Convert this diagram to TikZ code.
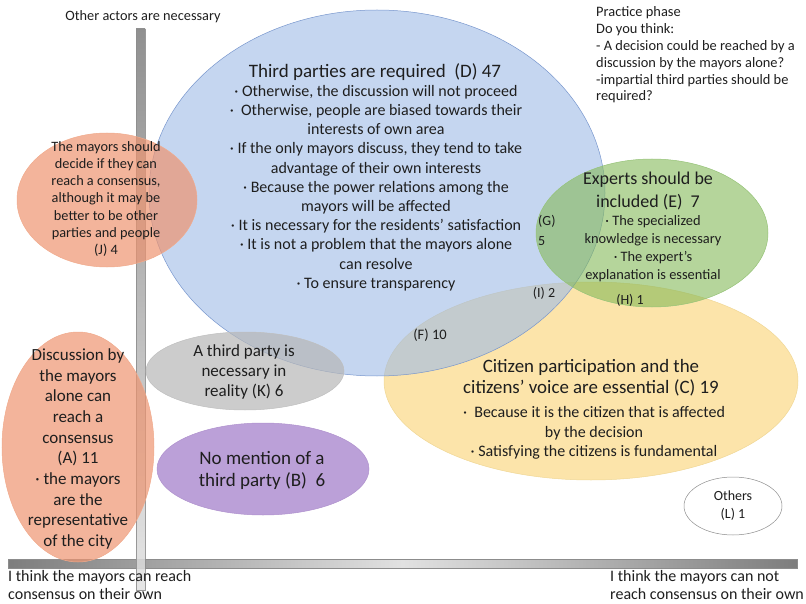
\documentclass[tikz,border=0pt]{standalone}
\usepackage{fontspec}
\setmainfont{Carlito}
\usetikzlibrary{shapes.geometric}
\newcommand{\fsz}[2]{\fontsize{#1}{#2}\selectfont}
\definecolor{cblue}{RGB}{158,187,230}
\definecolor{cblueb}{RGB}{120,150,205}
\definecolor{cgrn}{RGB}{132,185,88}
\definecolor{cgrnb}{RGB}{150,195,120}
\definecolor{cyel}{RGB}{252,228,170}
\definecolor{cyelb}{RGB}{240,215,150}
\definecolor{corg}{RGB}{238,148,112}
\definecolor{corgb}{RGB}{240,170,140}
\definecolor{cgry}{RGB}{183,183,183}
\definecolor{cgryb}{RGB}{190,190,190}
\definecolor{cpur}{RGB}{187,160,216}
\definecolor{cpurb}{RGB}{175,145,205}
\definecolor{bardk}{RGB}{125,125,125}
\definecolor{barlt}{RGB}{225,225,225}
\definecolor{ink}{RGB}{30,30,30}
\tikzset{
  blob/.style={ellipse,inner sep=0pt,line width=.5pt},
  bar/.style={draw=black!45,line width=.4pt},
  tx/.style={align=center,inner sep=0pt,text=ink},
  txl/.style={align=left,inner sep=0pt,text=ink,anchor=west},
  ttl/.style={tx,font=\fsz{19}{21.5}},
  bul/.style={tx,font=\fsz{16}{19.2}},
  sm/.style={tx,font=\fsz{14}{20}},
}

\begin{document}
\begin{tikzpicture}[x=1pt,y=-1pt]
\useasboundingbox (0,0) rectangle (806,604);
% ============================= axes
\shade[bar,left color=bardk,right color=bardk,middle color=barlt] (8,559) rectangle (797,568);
\shade[bar,top color=bardk,bottom color=barlt,opacity=.85] (136,29) rectangle (145,590);
\node[tx,font=\fsz{14.3}{17}] (axtop) at (143,17) {Other actors are necessary};
\node[txl,font=\fsz{16}{18}] (axleft) at (8,585)
  {I think the mayors can reach\\consensus on their own};
\node[txl,font=\fsz{16}{18}] (axright) at (610,585)
  {I think the mayors can not\\reach consensus on their own};
% ============================= ellipses
\node[blob,fill=cyel,draw=cyelb,minimum width=414pt,minimum height=198pt] (elC) at (591,381) {};
\node[blob,fill=cblue,fill opacity=.6,draw=cblueb,minimum width=456pt,minimum height=366pt] (elD) at (377,193) {};
\node[blob,fill=cgrn,fill opacity=.6,draw=cgrnb,minimum width=232pt,minimum height=148pt] (elE) at (652,233) {};
\node[blob,fill=corg,fill opacity=.7,draw=corgb,minimum width=180pt,minimum height=134pt] (elJ) at (107,200) {};
\node[blob,fill=corg,fill opacity=.7,draw=corgb,minimum width=152pt,minimum height=230pt] (elA) at (78,447) {};
\node[blob,fill=cgry,fill opacity=.7,draw=cgryb,minimum width=198pt,minimum height=78pt] (elK) at (245,371) {};
\node[blob,fill=cpur,draw=cpurb,minimum width=212pt,minimum height=92pt] (elB) at (263,469) {};
\node[blob,fill=white,draw=black!45,minimum width=98pt,minimum height=58pt] (elL) at (733,506) {};
% ============================= (D) third parties
\node[ttl] (tlD) at (375,72) {Third parties are required~~(D) 47};
\node[bul] (btD) at (376,188)
  {· Otherwise, the discussion will not proceed\\
   ·~~Otherwise, people are biased towards their\\
   interests of own area\\
   · If the only mayors discuss, they tend to take\\
   advantage of their own interests\\
   · Because the power relations among the\\
   mayors will be affected\\
   · It is necessary for the residents' satisfaction\\
   · It is not a problem that the mayors alone\\
   can resolve\\
   · To ensure transparency};
% ============================= (E) experts
\node[tx,font=\fsz{18}{22}] (tlE) at (648,191) {Experts should be\\included (E)~~7};
\node[tx,font=\fsz{14.4}{18}] (btE) at (653,249)
  {· The specialized\\knowledge is necessary\\· The expert's\\explanation is essential};
% ============================= (C) citizens
\node[tx,font=\fsz{18.9}{21}] (tlC) at (591,378) {Citizen participation and the\\citizens' voice are essential (C) 19};
\node[tx,font=\fsz{16}{19.5}] (btC) at (594,433)
  {·~~Because it is the citizen that is affected\\by the decision\\· Satisfying the citizens is fundamental};
% ============================= left side
\node[tx,font=\fsz{14.3}{17.3}] (tJ) at (106,199)
  {The mayors should\\decide if they can\\reach a consensus,\\although it may be\\better to be other\\parties and people\\(J) 4};
\node[tx,font=\fsz{17}{20.7}] (tA) at (78,449)
  {Discussion by\\the mayors\\alone can\\reach a\\consensus\\(A) 11\\· the mayors\\are the\\representative\\of the city};
\node[tx,font=\fsz{17}{20}] (tK) at (244,372) {A third party is\\necessary in\\reality (K) 6};
\node[tx,font=\fsz{19}{22}] (tB) at (262,470) {No mention of a\\third party (B)~~6};
\node[tx,font=\fsz{14}{18}] (tL) at (733,506) {Others\\(L) 1};
% ============================= overlaps
\node[txl,font=\fsz{14}{20}] (tG) at (538,230) {(G)\\5};
\node[sm] (tI) at (544,293) {(I) 2};
\node[sm] (tH) at (630,300) {(H) 1};
\node[sm,font=\fsz{14.5}{20}] (tF) at (430,335) {(F) 10};
% ============================= question
\node[txl,font=\fsz{14.4}{16.8}] (qst) at (596,55)
  {Practice phase\\Do you think:\\- A decision could be reached by a\\discussion by the mayors alone?\\-impartial third parties should be\\required?};
\end{tikzpicture}
\end{document}
